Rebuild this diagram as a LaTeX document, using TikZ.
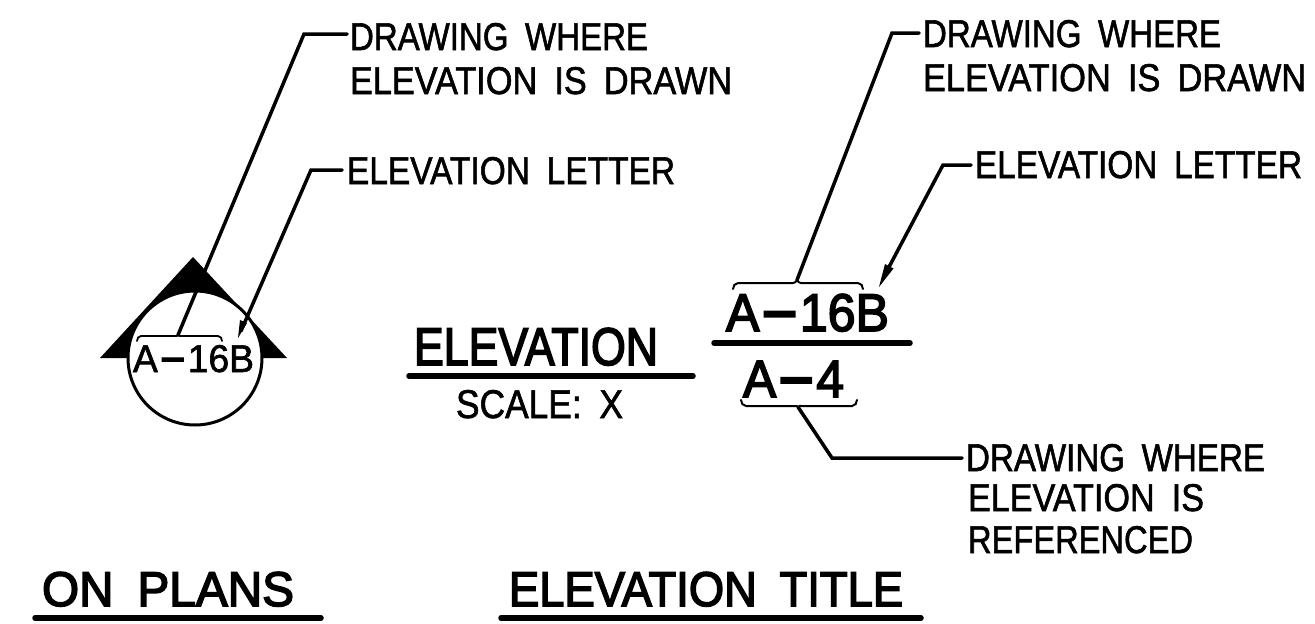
\documentclass[tikz,border=0pt]{standalone}
\usepackage{fontspec}
\usepackage{graphicx}
\setmainfont{Liberation Sans}[FakeBold=1.6]
\newfontfamily\heavyfont{Liberation Sans}[FakeBold=3.2]
\newcommand{\cadfit}[3]{\resizebox{#1pt}{#2pt}{#3}}
\newcommand{\wsp}{\hspace{.5em}}
\newcommand{\cdash}{\hspace{.02em}\scalebox{2.3}[1.2]{-}\hspace{.02em}}
\tikzset{
  cad/.style={inner sep=0pt,outer sep=0pt,anchor=base west,text=black},
  heavy/.style={cad,font=\heavyfont},
  leader/.style={draw=black,line width=3.5pt,line join=miter,line cap=round},
  brace/.style={draw=black,line width=2pt,line cap=round},
  rule/.style={draw=black,line width=5.5pt,line cap=round},
}
\begin{document}
\begin{tikzpicture}[x=1pt,y=-1pt]
\useasboundingbox (0,0) rectangle (1315,624);
% symbol
\fill[black] (193,257) -- (100,358) -- (287,358) -- cycle;
\node[circle,draw=black,fill=white,line width=3pt,minimum size=134pt,inner sep=0pt] (bubble) at (195,358) {};
% texts
\node[cad] (t1) at (350,50) {\cadfit{298}{27}{DRAWING\wsp WHERE}};
\node[cad] (t2) at (350,94) {\cadfit{382}{27}{ELEVATION\wsp IS\wsp DRAWN}};
\node[cad] (t3) at (347,184) {\cadfit{328}{27}{ELEVATION\wsp LETTER}};
\node[cad] (t4) at (923,47) {\cadfit{298}{27}{DRAWING\wsp WHERE}};
\node[cad] (t5) at (923,91) {\cadfit{383}{27}{ELEVATION\wsp IS\wsp DRAWN}};
\node[cad] (t6) at (975,178) {\cadfit{327}{27}{ELEVATION\wsp LETTER}};
\node[cad] (t7) at (133,372) {\cadfit{121}{27}{A\cdash 16B}};
\node[heavy] (t8) at (726,331) {\cadfit{163}{37}{A\cdash 16B}};
\node[heavy] (t9) at (743,397) {\cadfit{101}{36}{A\cdash 4}};
\node[heavy] (t10) at (414,365) {\cadfit{244}{37}{ELEVATION}};
\node[cad] (t11) at (456,418) {\cadfit{167}{28}{SCALE:\wsp X}};
\node[cad] (t12) at (966,471) {\cadfit{299}{27}{DRAWING\wsp WHERE}};
\node[cad] (t13) at (968,511) {\cadfit{236}{27}{ELEVATION\wsp IS}};
\node[cad] (t14) at (968,553) {\cadfit{225}{27}{REFERENCED}};
\node[heavy] (t15) at (42,606) {\cadfit{252}{34}{ON\wsp PLANS}};
\node[heavy] (t16) at (509,606) {\cadfit{394}{34}{ELEVATION\wsp TITLE}};
% rules
\draw[rule] (714,343) -- (910,343);
\draw[rule] (409,376) -- (693,376);
\draw[rule] (35,618) -- (321,618);
\draw[rule] (501,618) -- (921,618);
% braces and leaders
\coordinate (b1) at (178,335);
\coordinate (b1k) at (304,34);
\coordinate (t1e) at (347,34);
\draw[brace,line width=1.8pt] (137,341) to[out=90,in=180] (141,336) -- (175,336) to[out=0,in=240] (b1) to[out=300,in=180] (181,336) -- (218,336) to[out=0,in=90] (222,341);
\draw[leader] (b1) -- (b1k) -- (t1e);
\coordinate (a1) at (238,338);
\coordinate (a1k) at (311,170);
\coordinate (a1e) at (342,170);
\draw[leader] (241,331) -- (a1k) -- (a1e);
\fill[black] (a1) -- (240,320) -- (247,323) -- cycle;
\coordinate (b2) at (797,280);
\coordinate (b2k) at (892,33);
\coordinate (b2e) at (919,33);
\draw[brace] (733,289) to[out=90,in=180] (738,283) -- (793,283) to[out=0,in=240] (b2) to[out=300,in=180] (801,283) -- (858,283) to[out=0,in=90] (863,289);
\draw[leader] (b2) -- (b2k) -- (b2e);
\coordinate (a2) at (879,287);
\coordinate (a2k) at (943,165);
\coordinate (a2e) at (971,165);
\draw[leader] (889,267) -- (a2k) -- (a2e);
\fill[black] (a2) -- (885,264) -- (893.5,268.5) -- cycle;
\coordinate (b3) at (798,407);
\coordinate (b3k) at (832,458);
\coordinate (b3e) at (962,458);
\draw[brace] (741,400) to[out=270,in=180] (746,406) -- (795,406) to[out=0,in=120] (b3) to[out=60,in=180] (802,406) -- (852,406) to[out=0,in=270] (857,400);
\draw[leader] (b3) -- (b3k) -- (b3e);
\end{tikzpicture}
\end{document}
